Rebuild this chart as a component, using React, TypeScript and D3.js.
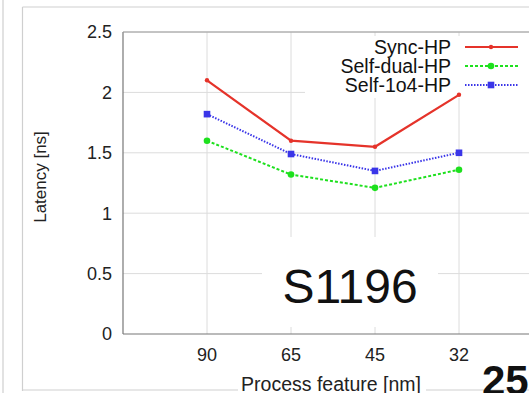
import React, {useRef, useEffect} from 'react'
import * as d3 from 'd3'

const features = ['90', '65', '45', '32']
const syncHP = [2.1, 1.6, 1.55, 1.98]
const selfDualHP = [1.6, 1.32, 1.21, 1.36]
const self1o4HP = [1.82, 1.49, 1.35, 1.5]
const yTicks = [0, 0.5, 1, 1.5, 2, 2.5]

const series = [
    {name: 'Sync-HP', values: syncHP, color: '#e5332a', dash: null, marker: 'dot'},
    {name: 'Self-dual-HP', values: selfDualHP, color: '#1ee01e', dash: '3,2', marker: 'circle'},
    {name: 'Self-1o4-HP', values: self1o4HP, color: '#3a35e8', dash: '1.5,1.5', marker: 'square'},
]

const W = 529
const H = 393
const FONT = 'Liberation Sans, Arial, sans-serif'

const App = () => {
    const element = useRef<SVGSVGElement>(null)

    useEffect(() => {
        const svg = d3.select(element.current)
        svg.selectAll('*').remove()

        svg.append('rect').attr('width', W).attr('height', H).attr('fill', '#fff')

        // outer slide frame
        const frame = svg.append('g').attr('stroke', '#cfcfcf').attr('stroke-width', 1.2)
        frame.append('line').attr('x1', 3).attr('y1', 0).attr('x2', 3).attr('y2', H)
        frame.append('line').attr('x1', 22.5).attr('y1', 7).attr('x2', 22.5).attr('y2', 391)
        frame.append('line').attr('x1', 22.5).attr('y1', 7).attr('x2', W).attr('y2', 7)
        frame.append('line').attr('x1', 22.5).attr('y1', 390).attr('x2', W).attr('y2', 390)

        const x = d3.scalePoint<string>().domain(features).range([123, 543]).padding(1)
        const y = d3.scaleLinear().domain([0, 2.5]).range([334, 32])

        // grid
        const grid = svg.append('g').attr('stroke', '#dcdcdc').attr('stroke-width', 1)
        grid.selectAll('line.h').data(yTicks.slice(1)).enter().append('line')
            .attr('x1', 123).attr('x2', W)
            .attr('y1', d => y(d)).attr('y2', d => y(d))
        grid.selectAll('line.v').data(features).enter().append('line')
            .attr('x1', d => x(d)!).attr('x2', d => x(d)!)
            .attr('y1', y(2.5)).attr('y2', y(0))

        // white boxes behind legend and label
        svg.append('rect').attr('x', 305).attr('y', 36).attr('width', W - 305).attr('height', 62).attr('fill', '#fff')
        svg.append('rect').attr('x', 262).attr('y', 237).attr('width', 176).attr('height', 90).attr('fill', '#fff')

        // axes
        const ax = svg.append('g').attr('stroke', '#777').attr('stroke-width', 1.2)
        ax.append('line').attr('x1', 123).attr('x2', 123).attr('y1', y(2.5)).attr('y2', y(0))
        ax.append('line').attr('x1', 123).attr('x2', W).attr('y1', y(0)).attr('y2', y(0))
        ax.append('line').attr('x1', 123).attr('x2', W).attr('y1', y(2.5)).attr('y2', y(2.5)).attr('stroke', '#999')

        svg.append('g').selectAll('text').data(yTicks).enter().append('text')
            .attr('x', 112).attr('y', d => y(d)).attr('dy', '0.35em')
            .attr('text-anchor', 'end').attr('font-family', FONT).attr('font-size', 18)
            .attr('fill', '#222')
            .text(d => String(d))

        svg.append('g').selectAll('text').data(features).enter().append('text')
            .attr('x', d => x(d)!).attr('y', 361)
            .attr('text-anchor', 'middle').attr('font-family', FONT).attr('font-size', 18)
            .attr('fill', '#222')
            .text(d => d)

        svg.append('text')
            .attr('transform', 'translate(46,177) rotate(-90)')
            .attr('text-anchor', 'middle').attr('font-family', FONT).attr('font-size', 17)
            .attr('fill', '#222')
            .text('Latency [ns]')

        svg.append('rect').attr('x', 238).attr('y', 374).attr('width', 188).attr('height', 19).attr('fill', '#fff')
        svg.append('text')
            .attr('x', 331).attr('y', 391)
            .attr('text-anchor', 'middle').attr('font-family', FONT).attr('font-size', 19.5)
            .attr('fill', '#222')
            .text('Process feature [nm]')

        // series
        const line = d3.line<number>()
            .x((d, i) => x(features[i])!)
            .y(d => y(d))

        const drawMarker = (g, m, cx, cy, color) => {
            if (m === 'dot') g.append('circle').attr('cx', cx).attr('cy', cy).attr('r', 2.2).attr('fill', color)
            else if (m === 'circle') g.append('circle').attr('cx', cx).attr('cy', cy).attr('r', 3.3).attr('fill', color)
            else g.append('rect').attr('x', cx - 3.3).attr('y', cy - 3.3).attr('width', 6.6).attr('height', 6.6).attr('fill', color)
        }

        series.forEach((s, k) => {
            const g = svg.append('g')
            g.append('path')
                .attr('d', line(s.values))
                .attr('fill', 'none')
                .attr('stroke', s.color)
                .attr('stroke-width', s.dash ? 2 : 2.2)
                .attr('stroke-dasharray', s.dash)
            s.values.forEach((v, i) => drawMarker(g, s.marker, x(features[i])!, y(v), s.color))

            // legend
            const ly = 47 + k * 19
            svg.append('text')
                .attr('x', 451).attr('y', ly).attr('dy', '0.35em')
                .attr('text-anchor', 'end').attr('font-family', FONT).attr('font-size', 19.5)
                .attr('fill', '#111')
                .text(s.name)
            g.append('line')
                .attr('x1', 465).attr('x2', 518).attr('y1', ly).attr('y2', ly)
                .attr('stroke', s.color).attr('stroke-width', 2)
                .attr('stroke-dasharray', s.dash)
            drawMarker(g, s.marker, 491, ly, s.color)
        })

        svg.append('text')
            .attr('x', 350).attr('y', 303)
            .attr('text-anchor', 'middle').attr('font-family', FONT).attr('font-size', 48)
            .attr('fill', '#111')
            .text('S1196')

        svg.append('text')
            .attr('x', 482).attr('y', 395)
            .attr('font-family', FONT).attr('font-size', 42).attr('font-weight', 'bold')
            .attr('fill', '#111')
            .text('25')
    }, [])

    return (
        <svg ref={element} width={W} height={H}
            style={{position: 'absolute', left: 0, top: 0, display: 'block'}} />
    )
}

export default App
